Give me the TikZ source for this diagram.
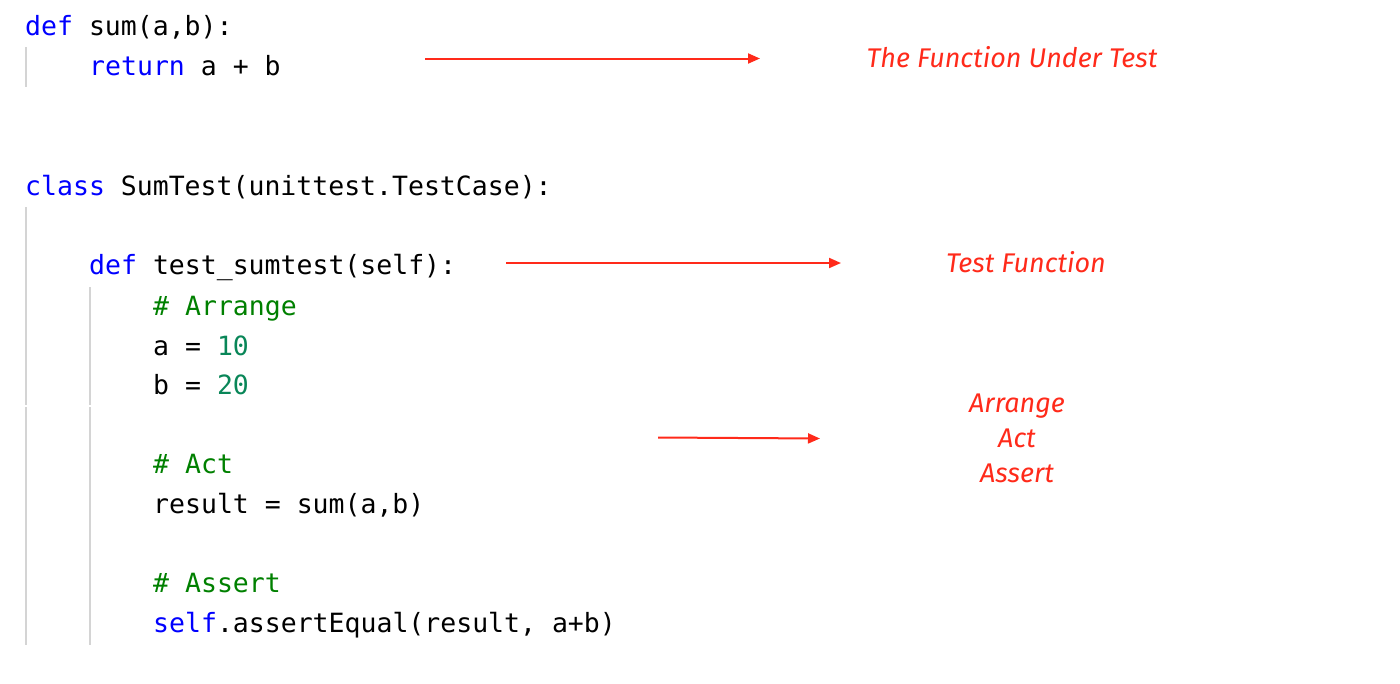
\documentclass[tikz,border=0pt]{standalone}
\usepackage{fontspec}
\setmonofont{DejaVu Sans Mono}
\newfontfamily\labfont{Fira Sans}
\usetikzlibrary{arrows.meta}
\definecolor{kw}{HTML}{0000FF}
\definecolor{cm}{HTML}{008000}
\definecolor{nm}{HTML}{098658}
\definecolor{guide}{HTML}{D4D4D4}
\definecolor{redlab}{HTML}{FF2A1A}
\tikzset{
  code/.style={anchor=base west, inner sep=0pt, font=\ttfamily\fontsize{26.5}{30}\selectfont, text=black},
  lab/.style={anchor=base, inner sep=0pt, font=\labfont\itshape\fontsize{27}{30}\selectfont, text=redlab},
  guideline/.style={draw=guide, line width=2pt},
  pointer/.style={draw=redlab, line width=2pt, -{Triangle[length=12pt,width=10pt]}}
}
\begin{document}
\begin{tikzpicture}[x=1pt,y=-1pt]
\useasboundingbox (0,0) rectangle (1400,683);
% guide lines
\draw[guideline] (26,47) -- (26,87);
\draw[guideline] (26,207) -- (26,405);
\draw[guideline] (26,407) -- (26,645);
\draw[guideline] (90,287) -- (90,405);
\draw[guideline] (90,407) -- (90,645);
% code
\node[code] (l1) at (25,35) {\textcolor{kw}{def} sum(a,b):};
\node[code] (l2) at (89,75) {\textcolor{kw}{return} a + b};
\node[code] (l3) at (25,195) {\textcolor{kw}{class} SumTest(unittest.TestCase):};
\node[code] (l4) at (89,274) {\textcolor{kw}{def} test\_sumtest(self):};
\node[code] (l5) at (153,315) {\textcolor{cm}{\# Arrange}};
\node[code] (l6) at (153,355) {a = \textcolor{nm}{10}};
\node[code] (l7) at (153,394) {b = \textcolor{nm}{20}};
\node[code] (l8) at (153,473) {\textcolor{cm}{\# Act}};
\node[code] (l9) at (153,513) {result = sum(a,b)};
\node[code] (l10) at (153,592) {\textcolor{cm}{\# Assert}};
\node[code] (l11) at (153,632) {\textcolor{kw}{self}.assertEqual(result, a+b)};
% labels
\node[lab] (t1) at (1012,67) {The Function Under Test};
\node[lab] (t2) at (1026,272) {Test Function};
\node[lab] (t3) at (1017,412) {Arrange};
\node[lab] (t4) at (1017,447) {Act};
\node[lab] (t5) at (1017,482) {Assert};
% arrows
\coordinate (a1s) at (425,58.5);
\coordinate (a1e) at (760,58.5);
\coordinate (a2s) at (506,263);
\coordinate (a2e) at (841,263);
\coordinate (a3s) at (658,437.5);
\coordinate (a3e) at (820,438.5);
\draw[pointer] (a1s) -- (a1e);
\draw[pointer] (a2s) -- (a2e);
\draw[pointer] (a3s) -- (a3e);
\end{tikzpicture}
\end{document}
